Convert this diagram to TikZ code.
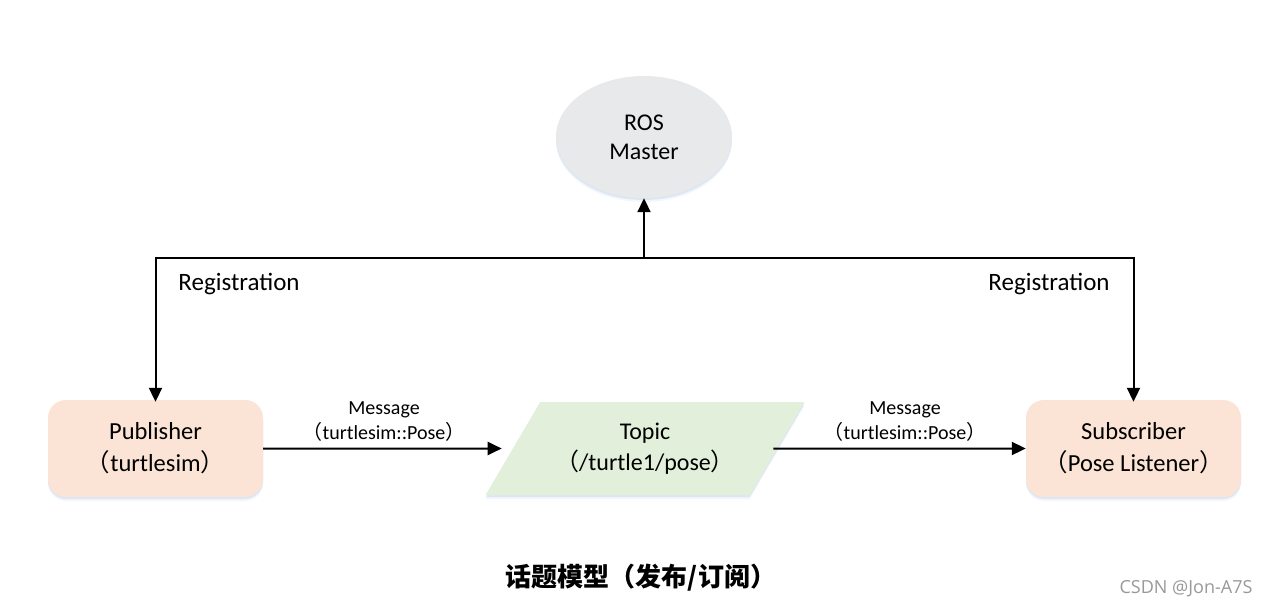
\documentclass[tikz,border=0pt]{standalone}
\usepackage{fontspec}
\setmainfont{Carlito}
\newfontfamily\cjk{Noto Sans CJK SC}
\newfontfamily\wmfont{Open Sans}
\usetikzlibrary{shapes.geometric,arrows.meta}
\definecolor{peach}{HTML}{FBE4D5}
\definecolor{leaf}{HTML}{E2EFDA}
\definecolor{mastergray}{HTML}{E8E9EB}
\definecolor{shadowblue}{HTML}{9DBBE0}
\tikzset{
  softshadow/.style={
    preaction={fill=shadowblue, fill opacity=0.12, transform canvas={yshift=-4pt}},
    preaction={fill=shadowblue, fill opacity=0.25, transform canvas={yshift=-2pt}}},
  rolebox/.style={draw=none, fill=peach, rounded corners=18pt, minimum width=215pt, minimum height=97pt, align=center, font=\fontsize{24.5}{32}\selectfont, softshadow},
  masternode/.style={ellipse, draw=none, fill=mastergray, minimum width=176pt, minimum height=122pt, align=center, font=\fontsize{24}{29}\selectfont, softshadow},
  topicnode/.style={trapezium, trapezium left angle=50, trapezium right angle=130, trapezium stretches=true, draw=none, fill=leaf, minimum width=320pt, minimum height=93pt, align=center, font=\fontsize{24}{31}\selectfont, softshadow},
  arr/.style={line width=2pt, -{Triangle[length=14pt,width=13pt]}},
  lbl/.style={font=\fontsize{25}{28}\selectfont},
  msg/.style={align=center, font=\fontsize{20}{25}\selectfont},
}
\begin{document}
\begin{tikzpicture}[x=1pt,y=-1pt]
\useasboundingbox (0,0) rectangle (1270,608);
\fill[white] (0,0) rectangle (1270,608);

\node[masternode] (master) at (644,137) {ROS\\Master};
\node[rolebox] (pub) at (155.5,448.5) {Publisher\\{\cjk （}turtlesim{\cjk ）}};
\node[rolebox] (sub) at (1133.5,448.5) {Subscriber\\{\cjk （}Pose Listener{\cjk ）}};
\node[topicnode] (topic) at (645,448.5) {Topic\\{\cjk （}/turtle1/pose{\cjk ）}};

\coordinate (junction) at (644,258);
\draw[arr] (junction) -- (master.south);
\draw[arr] (junction) -| ([yshift=-2pt]pub.north);
\draw[arr] (junction) -| ([yshift=-2pt]sub.north);

\node[lbl] (reg1) at (239,284) {Registration};
\node[lbl] (reg2) at (1049,284) {Registration};

\draw[arr, shorten >=11pt] (pub.east) -- (topic.west);
\draw[arr] ([xshift=-4pt]topic.east) -- (sub.west);

\node[msg] (msg1) at (384,421.5) {Message\\{\cjk （}turtlesim::Pose{\cjk ）}};
\node[msg] (msg2) at (905,421.5) {Message\\{\cjk （}turtlesim::Pose{\cjk ）}};

\node[font=\cjk\bfseries\fontsize{26}{30}\selectfont] (title) at (641,578) {话题模型（发布/订阅）};
\node[font=\wmfont\fontsize{18}{20}\selectfont, text=black!40] (wm) at (1186,589) {CSDN @Jon-A7S};
\end{tikzpicture}
\end{document}
